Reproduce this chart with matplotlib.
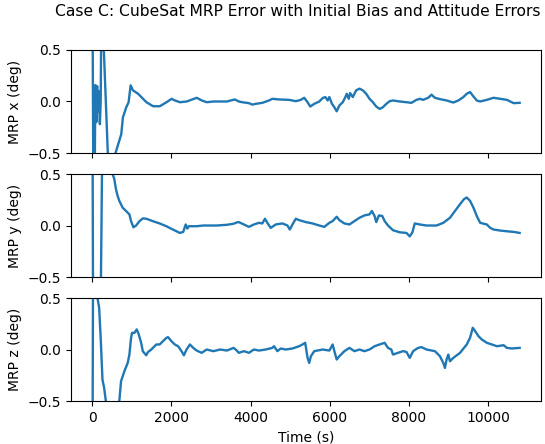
import matplotlib
matplotlib.use("Agg")
import matplotlib.pyplot as plt
import numpy as np

t_x = [0, 30, 55, 75, 100, 120, 140, 160, 190, 210, 230, 270, 290, 390, 480, 585,
       730, 772, 857, 916, 967, 1026, 1153, 1366, 1536, 1705, 1875, 2003, 2087, 2214,
       2384, 2639, 2766, 2893, 3063, 3402, 3600,
       3703, 3788, 3957, 4042, 4127, 4296, 4466, 4550, 4720, 4974, 5143, 5270, 5355,
       5440, 5508, 5609, 5737, 5821, 5889, 5948, 5991, 6058, 6118, 6177, 6245, 6330,
       6397, 6431, 6482, 6516, 6584, 6669, 6753, 6838, 6923, 7007, 7092, 7177, 7262,
       7346, 7431, 7516, 7601, 7770, 7940, 8067, 8194, 8278, 8363, 8490, 8575, 8660,
       8787, 8956, 9126, 9253, 9380, 9465, 9549, 9634, 9719, 9804, 9973, 10142, 10312,
       10481, 10566, 10651, 10803]
mrp_x = [1.2, -1.2, -1.0, 0.16, -0.2, 0.15, -0.1, 0.1, -0.22, 0.0, 1.0, 1.0, 0.5, -0.5, -0.8, -0.5,
         -0.318, -0.154, -0.056, -0.007, 0.157, 0.108, 0.076, -0.007, -0.046, -0.046, -0.007, 0.026, 0.01, -0.007,
         0.0, 0.036, 0.01, -0.007, 0.0, 0.0, 0.02,
         0.0, -0.007, -0.016, -0.03, -0.023, -0.013, 0.01, 0.026, 0.02, 0.016, 0.003, 0.016, 0.036,
         -0.007, -0.049, -0.023, 0.0, 0.033, 0.043, 0.01, 0.043, -0.023, -0.056, -0.095, -0.039, -0.007,
         0.043, 0.075, 0.026, 0.082, 0.043, 0.108, 0.125, 0.108, 0.075, 0.026, -0.007, -0.049, -0.072,
         -0.056, -0.023, 0.003, 0.01, 0.0, -0.007, -0.013, 0.016, 0.026, 0.016, 0.036, 0.066, 0.036,
         0.023, 0.01, -0.01, 0.01, 0.043, 0.075, 0.092, 0.049, 0.01, 0.0, 0.016, 0.036, 0.026,
         0.016, 0.0, -0.016, -0.013]

t_y = [0, 20, 200, 260, 480, 510, 553, 596, 638, 681, 766, 851, 936, 978, 1038, 1106,
       1191, 1275, 1361, 1530, 1700, 1871, 2040, 2210, 2295, 2360, 2400, 2440, 2636, 2806,
       3146, 3401, 3570, 3650,
       3703, 3830, 3957, 4084, 4211, 4296, 4364, 4423, 4508, 4635, 4804, 4932, 4991, 5059,
       5143, 5228, 5398, 5567, 5737, 5864, 5991, 6075, 6177, 6245, 6372, 6499, 6626, 6753,
       6880, 7007, 7067, 7135, 7177, 7245, 7330, 7389, 7474, 7601, 7770, 7940, 8024, 8092,
       8151, 8278, 8448, 8702, 8872, 9041, 9168, 9296, 9397, 9465, 9549, 9634, 9719, 9804,
       9973, 10058, 10142, 10312, 10481, 10651, 10803]
mrp_y = [1.5, -1.2, -1.2, 1.2, 1.0, 0.5, 0.453, 0.354, 0.288, 0.239, 0.173, 0.141, 0.108, 0.042, -0.017, 0.0,
         0.042, 0.069, 0.066, 0.042, 0.02, -0.007, -0.04, -0.072, -0.063, 0.01, -0.03, -0.007, -0.007, 0.0,
         0.0, 0.007, 0.017, 0.03,
         0.033, 0.01, -0.013, 0.01, 0.026, 0.02, 0.066, 0.026, -0.023, 0.01, 0.02, 0.0, -0.039, 0.01,
         0.066, 0.052, 0.033, 0.02, 0.0, -0.013, 0.026, 0.043, 0.085, 0.052, 0.02, 0.01, 0.043, 0.075,
         0.098, 0.108, 0.141, 0.092, 0.033, 0.098, 0.092, 0.043, 0.0, -0.046, -0.066, -0.072, -0.105, -0.066,
         0.02, 0.01, 0.0, 0.0, 0.026, 0.075, 0.141, 0.207, 0.256, 0.272, 0.239, 0.174, 0.092, 0.026,
         0.01, -0.023, -0.039, -0.049, -0.056, -0.062, -0.072]

t_z = [0, 20, 100, 128, 171, 214, 255, 298, 342, 500, 681, 724, 808, 893, 936, 978,
       1004, 1063, 1122, 1173, 1234, 1275, 1361, 1403, 1489, 1617, 1700, 1785, 1871, 1913,
       1999, 2083, 2168, 2253, 2313, 2381, 2466, 2550, 2636, 2763, 2891, 3060, 3231, 3401,
       3570, 3650,
       3703, 3830, 3957, 4084, 4211, 4381, 4550, 4593, 4677, 4762, 4889, 5059, 5228, 5313,
       5381, 5440, 5482, 5525, 5609, 5821, 5991, 6075, 6118, 6177, 6245, 6372, 6499, 6626,
       6753, 6880, 7007, 7135, 7262, 7389, 7474, 7558, 7601, 7728, 7855, 7940, 8024, 8109,
       8236, 8321, 8448, 8660, 8787, 8872, 8914, 8956, 8999, 9041, 9126, 9296, 9465, 9549,
       9617, 9676, 9761, 9846, 9973, 10100, 10227, 10397, 10481, 10608, 10803]
mrp_z = [-1.5, 1.2, 1.0, 0.503, 0.405, 0.081, -0.292, -0.374, -0.504, -0.9, -0.5, -0.309, -0.212, -0.13, -0.049, 0.113,
         0.162, 0.162, 0.195, 0.146, 0.064, -0.017, -0.056, -0.026, 0.0, 0.049, 0.049, 0.081, 0.113, 0.12,
         0.081, 0.049, 0.032, -0.016, -0.056, 0.0, 0.049, 0.016, -0.01, -0.032, 0.0, -0.016, 0.0, -0.01,
         0.016, -0.01,
         -0.032, -0.016, -0.032, 0.0, -0.01, 0.0, 0.016, 0.032, -0.016, 0.01, 0.0, 0.01, 0.032, 0.049,
         0.065, -0.081, -0.13, -0.065, -0.016, 0.0, -0.01, 0.049, -0.016, -0.097, -0.065, -0.016, 0.016, -0.016,
         0.0, -0.016, 0.0, 0.032, 0.049, 0.065, 0.016, 0.0, -0.049, -0.032, -0.016, -0.023, -0.081, -0.016,
         0.016, 0.023, 0.0, -0.016, -0.065, -0.13, -0.179, -0.097, -0.049, -0.114, -0.081, -0.032, 0.049, 0.114,
         0.211, 0.179, 0.13, 0.097, 0.065, 0.049, 0.032, 0.042, 0.016, 0.01, 0.016]

ylabels = ["MRP x (deg)", "MRP y (deg)", "MRP z (deg)"]
title = "Case C: CubeSat MRP Error with Initial Bias and Attitude Errors"
xlabel = "Time (s)"

fig = plt.figure(figsize=(5.45, 4.44), dpi=100)
left, width = 0.1303, 0.8624
bottoms = [0.6554, 0.3761, 0.0968]
height = 0.232
axes = []
for i, b in enumerate(bottoms):
    ax = fig.add_axes([left, b, width, height], sharex=axes[0] if axes else None)
    axes.append(ax)

series = [(t_x, mrp_x), (t_y, mrp_y), (t_z, mrp_z)]
for ax, (t, v), lab in zip(axes, series, ylabels):
    ax.plot(t, v, color="#1f77b4", lw=1.7)
    ax.set_ylim(-0.5, 0.5)
    ax.set_yticks([-0.5, 0.0, 0.5])
    ax.set_ylabel(lab)
for ax in axes[:2]:
    ax.tick_params(labelbottom=False)
axes[2].set_xlabel(xlabel)
axes[2].set_xticks([0, 2000, 4000, 6000, 8000, 10000])

fig.suptitle(title, x=0.992, y=0.973, ha="right", va="center", fontsize=11.2)
fig.savefig("out.png", dpi=100)
